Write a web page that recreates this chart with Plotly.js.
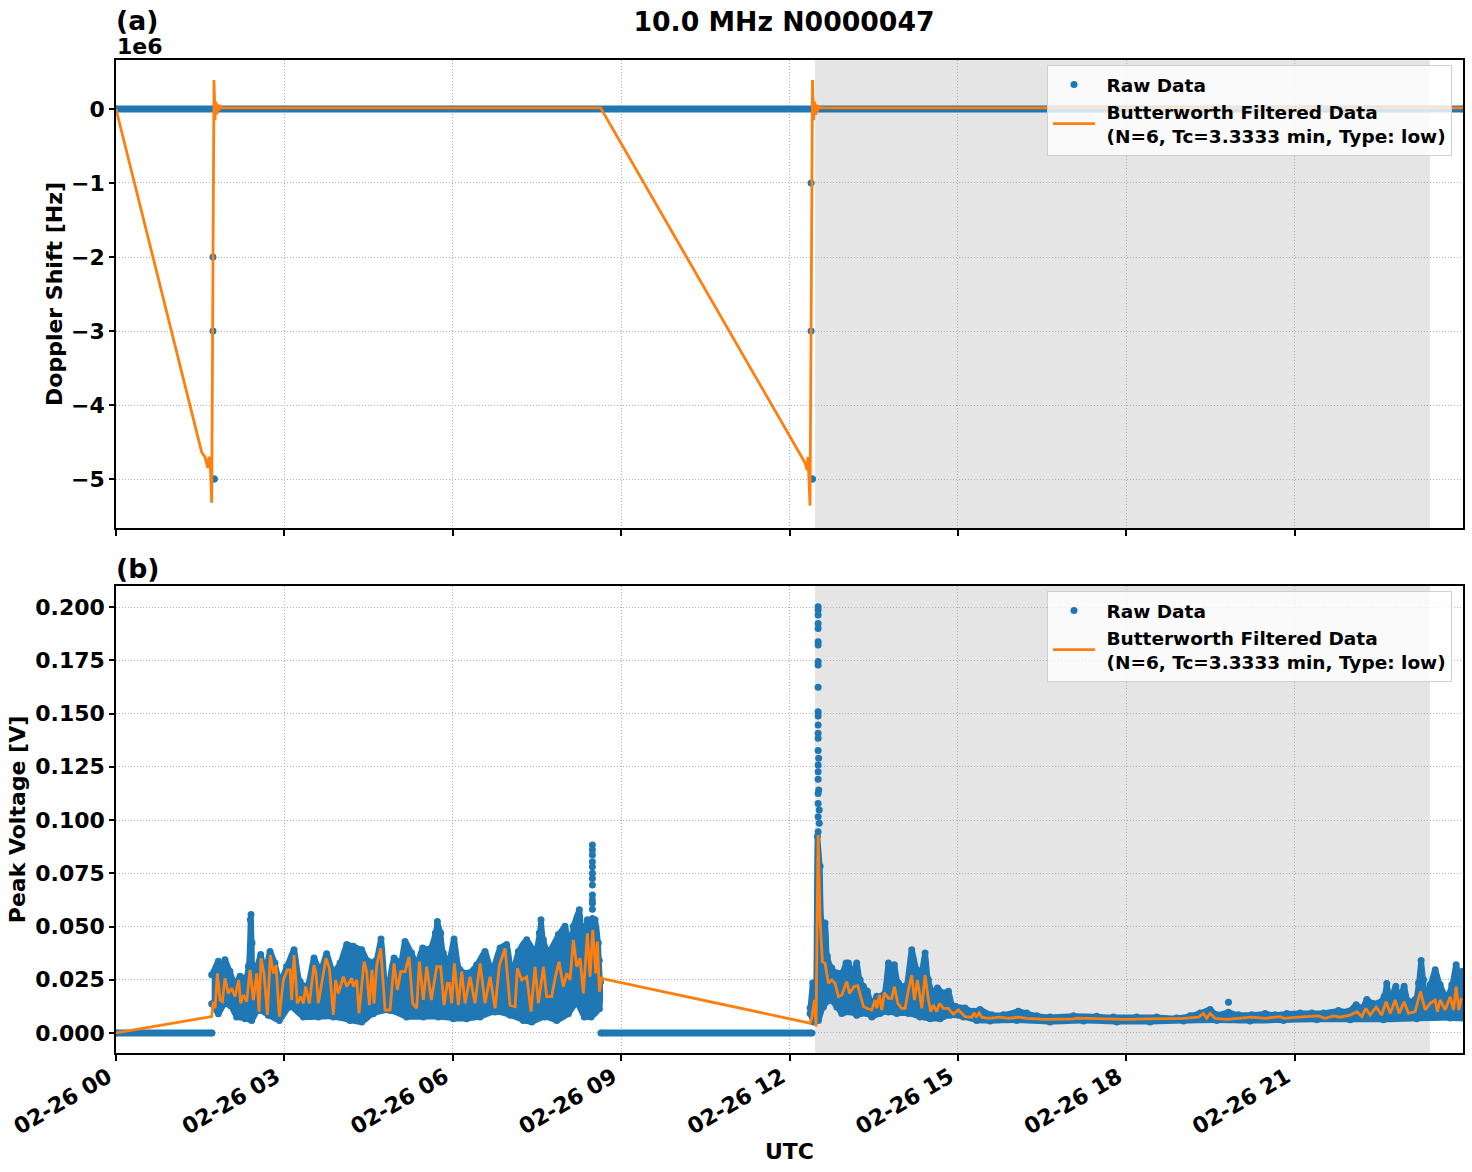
<!DOCTYPE html>
<html>
<head>
<meta charset="utf-8">
<script src="https://cdn.plot.ly/plotly-3.0.1.min.js"></script>
<style>html,body{margin:0;padding:0;background:#fff}</style>
</head>
<body>
<div id="chart" style="width:1472px;height:1172px"></div>
<script>
// Times are hours after 02-26 00:00 UTC.
const mainTitle = '10.0 MHz N0000047';
const panelLabels = ['(a)', '(b)'];
const rawName = '\u00A0Raw Data';
const filteredName = '\u00A0Butterworth Filtered Data<br>\u00A0(N=6, Tc=3.3333 min, Type: low)';
const shadeHours = [12.455, 23.41];
const tickHours = [0, 3, 6, 9, 12, 15, 18, 21];
const dopplerTicks = [0, -1000000, -2000000, -3000000, -4000000, -5000000];
const dopplerTickText = ['0', '\u22121', '\u22122', '\u22123', '\u22124', '\u22125'];

// Panel (a)
const dopplerBandT = [0, 24];
const dopplerBandV = [0, 0];
const dopplerOutT = [1.728, 1.728, 1.745, 1.752, 12.385, 12.385, 12.40, 12.41];
const dopplerOutV = [-2000000, -3000000, -5000000, -5000000, -1000000, -3000000, -5000000, -5000000];
const dopplerFiltT = [0, 1.527, 1.586, 1.634, 1.657, 1.680, 1.705, 1.746, 1.764, 1.782, 1.800, 1.818, 1.835, 1.853, 1.889, 8.635, 12.277, 12.313, 12.330, 12.366, 12.410, 12.430, 12.447, 12.465, 12.480, 12.500, 12.520, 12.550, 24];
const dopplerFiltV = [0, -4640000, -4700000, -4850000, -4700000, -4800000, -5320000, 390000, -150000, 100000, -70000, 60000, -20000, 50000, 15000, 15000, -4780000, -4880000, -4700000, -5360000, 390000, -150000, 100000, -80000, 60000, -30000, 40000, 15000, 15000];

// Panel (b): extents of the raw cloud, morning burst then afternoon burst
const zeroBand1T = [0, 1.71];
const zeroBand2T = [8.64, 12.40];
const zeroBandV = [0, 0];
const rawTop1T = [1.705,1.824,1.883,1.942,2.031,2.120,2.210,2.299,2.358,2.394,2.406,2.424,2.447,2.507,2.578,2.655,2.744,2.833,2.922,3.041,3.172,3.279,3.398,3.528,3.635,3.754,3.873,3.992,4.111,4.229,4.378,4.497,4.616,4.722,4.823,4.954,5.061,5.150,5.268,5.358,5.464,5.583,5.690,5.726,5.785,5.833,5.922,6.023,6.130,6.278,6.427,6.575,6.694,6.843,6.961,7.050,7.169,7.318,7.466,7.543,7.573,7.615,7.704,7.882,8.000,8.090,8.149,8.256,8.315,8.399,8.464,8.535,8.594,8.610,8.630];
const rawTop1V = [.0274,.0337,.0266,.0344,.0290,.0235,.0266,.0258,.0313,.0532,.0556,.0423,.0282,.0313,.0368,.0297,.0383,.0329,.0250,.0313,.0391,.0243,.0219,.0352,.0297,.0372,.0290,.0329,.0415,.0407,.0391,.0337,.0337,.0441,.0180,.0352,.0329,.0430,.0376,.0329,.0399,.0394,.0470,.0524,.0470,.0376,.0337,.0441,.0297,.0282,.0321,.0383,.0297,.0399,.0415,.0282,.0383,.0438,.0383,.0470,.0532,.0438,.0383,.0462,.0501,.0407,.0501,.0579,.0415,.0532,.0509,.0532,.0423,.0340,.0240];
const rawBottom1T = [1.705,1.824,1.942,2.031,2.150,2.299,2.418,2.536,2.714,2.910,3.101,3.338,3.605,3.873,4.170,4.378,4.585,4.882,5.179,5.476,5.744,6.011,6.249,6.486,6.753,7.021,7.258,7.407,7.644,7.852,8.060,8.209,8.345,8.464,8.613,8.630];
const rawBottom1V = [.0137,.0090,.0137,.0129,.0075,.0067,.0059,.0106,.0083,.0059,.0122,.0075,.0075,.0075,.0059,.0051,.0090,.0106,.0075,.0075,.0075,.0067,.0067,.0075,.0098,.0083,.0059,.0051,.0075,.0059,.0090,.0137,.0075,.0075,.0114,.0240];
const rawTop2T = [12.367,12.414,12.456,12.497,12.545,12.592,12.634,12.675,12.753,12.842,12.931,13.008,13.050,13.109,13.198,13.257,13.317,13.388,13.466,13.555,13.673,13.763,13.822,13.869,13.941,14.060,14.178,14.268,14.327,14.416,14.475,14.564,14.636,14.743,14.832,14.909,14.950,15.128,15.277,15.396,15.604,15.811,16.079,16.227,16.405,16.643,17.059,17.475,17.772,18.187,18.544,18.900,19.138,19.316,19.494,19.613,19.821,20.000,20.237,20.474,20.653,20.860,21.098,21.306,21.514,21.781,21.959,22.096,22.197,22.286,22.405,22.494,22.595,22.642,22.702,22.803,22.862,22.951,23.029,23.147,23.207,23.254,23.296,23.326,23.415,23.504,23.593,23.711,23.801,23.878,23.949,23.990];
const rawTop2V = [.0117,.0235,.0172,.0923,.0783,.0517,.0517,.0360,.0305,.0282,.0282,.0329,.0329,.0282,.0329,.0250,.0219,.0196,.0141,.0172,.0180,.0329,.0282,.0321,.0235,.0219,.0391,.0297,.0266,.0376,.0250,.0188,.0211,.0188,.0196,.0125,.0125,.0117,.0102,.0110,.0086,.0086,.0102,.0094,.0081,.0075,.0081,.0078,.0075,.0075,.0075,.0070,.0081,.0094,.0110,.0086,.0097,.0086,.0086,.0091,.0086,.0091,.0094,.0094,.0094,.0106,.0102,.0133,.0117,.0157,.0138,.0141,.0172,.0232,.0165,.0219,.0165,.0219,.0149,.0157,.0235,.0340,.0250,.0180,.0227,.0297,.0227,.0172,.0227,.0321,.0250,.0290];
const rawBottom2T = [12.367,12.426,12.515,12.604,12.723,12.842,12.931,13.079,13.198,13.376,13.466,13.614,13.763,13.911,14.119,14.327,14.505,14.683,14.861,15.099,15.336,15.574,16.049,16.643,17.237,17.831,18.425,19.019,19.613,20.207,20.801,21.395,21.989,22.583,23.177,23.771,23.990];
const rawBottom2V = [.0091,.0052,.0059,.0122,.0153,.0122,.0091,.0098,.0083,.0091,.0075,.0091,.0098,.0091,.0091,.0075,.0067,.0067,.0083,.0075,.0059,.0056,.0059,.0052,.0056,.0052,.0052,.0056,.0059,.0056,.0059,.0062,.0062,.0062,.0067,.0070,.0070];

// Isolated raw points on the spikes
const spikeT = [8.488,8.488,8.488,8.488,8.488,8.488,8.488,8.488,8.488,8.488,8.488,8.488,8.488,
12.51,12.51,12.51,12.51,12.51,12.51,12.51,12.51,12.51,12.51,12.51,12.51,12.51,12.51,12.51,12.51,12.52,12.51,12.51,12.51,12.52,12.51,12.51,12.53,12.51,12.53,12.51,19.821];
const spikeV = [.0883,.0859,.0836,.0804,.0781,.0750,.0726,.0695,.0648,.0624,.0609,.0581,.0538,
.2002,.1986,.1963,.1923,.1900,.1837,.1822,.1744,.1728,.1623,.1509,.1488,.1446,.1407,.1384,.1326,.1290,.1258,.1227,.1191,.1141,.1125,.1078,.1047,.1016,.0985,.0945,.0144];

// Panel (b): filtered line
const filtT = [0,1.700,1.705,1.734,1.764,1.806,1.853,1.895,1.942,2.002,2.061,2.120,2.186,2.221,2.269,2.328,2.388,2.447,2.507,2.548,2.584,2.637,2.697,2.750,2.804,2.851,2.910,2.982,3.053,3.101,3.130,3.172,3.231,3.291,3.338,3.380,3.445,3.528,3.564,3.605,3.671,3.742,3.802,3.873,3.914,3.962,4.051,4.111,4.200,4.229,4.289,4.330,4.419,4.467,4.514,4.562,4.597,4.645,4.716,4.794,4.883,4.954,5.013,5.073,5.150,5.221,5.286,5.358,5.405,5.476,5.536,5.619,5.714,5.785,5.845,5.904,5.940,5.981,6.029,6.100,6.160,6.219,6.308,6.397,6.486,6.575,6.665,6.754,6.831,6.932,7.021,7.110,7.152,7.229,7.318,7.395,7.466,7.526,7.615,7.674,7.763,7.823,7.894,7.971,8.031,8.090,8.149,8.209,8.268,8.328,8.399,8.446,8.494,8.548,8.577,8.613,8.654,8.660,
12.300,12.367,12.396,12.444,12.473,12.509,12.545,12.586,12.634,12.693,12.753,12.812,12.872,12.931,13.020,13.068,13.151,13.216,13.317,13.376,13.466,13.525,13.555,13.602,13.644,13.691,13.763,13.822,13.869,13.929,14.000,14.060,14.119,14.178,14.226,14.279,14.357,14.416,14.475,14.517,14.564,14.624,14.671,14.743,14.832,14.861,14.920,15.010,15.128,15.247,15.289,15.324,15.378,15.425,15.544,15.752,15.901,16.079,16.227,16.584,17.059,17.118,17.475,17.950,18.425,18.633,19.019,19.286,19.375,19.435,19.494,19.583,19.791,20.237,20.474,20.742,20.801,21.068,21.306,21.425,21.544,21.692,21.811,21.989,22.108,22.197,22.268,22.345,22.452,22.553,22.630,22.702,22.791,22.862,22.951,23.029,23.147,23.242,23.326,23.415,23.504,23.545,23.593,23.682,23.771,23.831,23.878,23.925,23.967,23.990];
const filtV = [0,.0075,.0077,.0147,.0116,.0280,.0155,.0147,.0257,.0186,.0210,.0171,.0249,.0139,.0178,.0147,.0296,.0155,.0280,.0100,.0351,.0280,.0085,.0366,.0280,.0319,.0077,.0249,.0296,.0296,.0155,.0366,.0139,.0171,.0139,.0218,.0139,.0319,.0280,.0139,.0249,.0351,.0304,.0085,.0249,.0186,.0264,.0218,.0257,.0218,.0249,.0092,.0335,.0288,.0131,.0296,.0139,.0319,.0397,.0108,.0108,.0327,.0202,.0288,.0288,.0358,.0139,.0116,.0335,.0155,.0311,.0155,.0311,.0311,.0131,.0233,.0233,.0139,.0327,.0131,.0288,.0139,.0264,.0139,.0327,.0139,.0264,.0116,.0319,.0397,.0131,.0124,.0304,.0249,.0264,.0100,.0311,.0139,.0311,.0171,.0171,.0257,.0335,.0218,.0280,.0249,.0437,.0311,.0351,.0186,.0468,.0264,.0484,.0280,.0429,.0194,.0264,.0255,
.0050,.0045,.0069,.0155,.0030,.0930,.0531,.0335,.0327,.0233,.0249,.0233,.0171,.0178,.0241,.0186,.0218,.0222,.0124,.0116,.0108,.0155,.0116,.0178,.0108,.0189,.0163,.0163,.0218,.0139,.0116,.0116,.0202,.0272,.0155,.0249,.0116,.0272,.0155,.0100,.0131,.0100,.0139,.0116,.0116,.0105,.0089,.0108,.0077,.0074,.0095,.0074,.0095,.0074,.0069,.0074,.0069,.0074,.0069,.0064,.0066,.0070,.0067,.0064,.0066,.0067,.0069,.0074,.0092,.0069,.0092,.0069,.0064,.0074,.0069,.0077,.0069,.0074,.0077,.0080,.0069,.0080,.0074,.0084,.0100,.0077,.0116,.0084,.0121,.0084,.0147,.0092,.0155,.0092,.0147,.0092,.0100,.0194,.0108,.0139,.0155,.0100,.0155,.0108,.0170,.0108,.0218,.0108,.0158,.0155];

const BLUE = '#1f77b4', ORANGE = '#ff7f0e';
const DAY0 = Date.UTC(2023, 1, 26);
const t = a => a.map(h => DAY0 + h * 3600000);
const FONT = 'DejaVu Sans, sans-serif';
const BASE = {size: 22, family: FONT, color: '#000', weight: 700};
const BIG = {size: 26.7, family: FONT, color: '#000', weight: 700};
const W = 1472, H = 1172;

const band = (x, y, xa, ya, width) => ({x: t(x), y, xaxis: xa, yaxis: ya, type: 'scatter', mode: 'lines',
  line: {color: BLUE, width}, showlegend: false, hoverinfo: 'skip'});
const cloud = (topT, topV, botT, botV) => ({x: t(topT.concat(botT.slice().reverse())), y: topV.concat(botV.slice().reverse()),
  xaxis: 'x2', yaxis: 'y2', type: 'scatter', mode: 'lines', fill: 'toself', fillcolor: BLUE,
  line: {color: BLUE, width: 5, shape: 'spline', smoothing: 0.7}, showlegend: false, hoverinfo: 'skip'});

const data = [
  band(dopplerBandT, dopplerBandV, 'x', 'y', 7),
  {x: t(dopplerBandT.concat(dopplerOutT)), y: dopplerBandV.concat(dopplerOutV), xaxis: 'x', yaxis: 'y', type: 'scatter', mode: 'markers', name: rawName,
   marker: {color: BLUE, size: 7}, legend: 'legend'},
  {x: t(dopplerFiltT), y: dopplerFiltV, xaxis: 'x', yaxis: 'y', type: 'scatter', mode: 'lines', name: filteredName,
   line: {color: ORANGE, width: 2.8}, legend: 'legend'},

  band(zeroBand1T, zeroBandV, 'x2', 'y2', 7),
  band(zeroBand2T, zeroBandV, 'x2', 'y2', 7),
  cloud(rawTop1T, rawTop1V, rawBottom1T, rawBottom1V),
  cloud(rawTop2T, rawTop2V, rawBottom2T, rawBottom2V),
  {x: t(zeroBand1T.concat(zeroBand2T, rawTop1T, rawBottom1T, rawTop2T, rawBottom2T, spikeT)),
   y: zeroBandV.concat(zeroBandV, rawTop1V, rawBottom1V, rawTop2V, rawBottom2V, spikeV),
   xaxis: 'x2', yaxis: 'y2', type: 'scatter', mode: 'markers', name: rawName,
   marker: {color: BLUE, size: 7}, legend: 'legend2'},
  {x: t(filtT), y: filtV, xaxis: 'x2', yaxis: 'y2', type: 'scatter', mode: 'lines', name: filteredName,
   line: {color: ORANGE, width: 2.8}, legend: 'legend2'}
];

const xBase = {
  type: 'date', range: [DAY0, DAY0 + 24 * 3600000], tickmode: 'array', tickvals: t(tickHours),
  showline: true, mirror: true, linecolor: '#000', linewidth: 1.5,
  ticks: 'outside', ticklen: 6, tickwidth: 1.5, tickcolor: '#000',
  showgrid: true, gridcolor: '#b0b0b0', griddash: '1px,2px', gridwidth: 1, zeroline: false,
  domain: [116 / W, 1463 / W]
};
const yBase = {
  showline: true, mirror: true, linecolor: '#000', linewidth: 1.5,
  ticks: 'outside', ticklen: 5, tickwidth: 1.5, tickcolor: '#000',
  showgrid: true, gridcolor: '#b0b0b0', griddash: '1px,2px', gridwidth: 1, zeroline: false,
  tickfont: BASE, automargin: false
};
const legendBase = {x: 1047 / W, xanchor: 'left', yanchor: 'top', bgcolor: 'rgba(255,255,255,0.8)',
  bordercolor: '#d0d0d0', borderwidth: 1, font: {size: 18.5, family: FONT, color: '#000', weight: 700},
  itemwidth: 42, traceorder: 'normal', tracegroupgap: 0};
const shade = (xa, ya) => ({type: 'rect', xref: xa, yref: ya + ' domain', x0: DAY0 + shadeHours[0] * 3600000, x1: DAY0 + shadeHours[1] * 3600000,
  y0: 0, y1: 1, fillcolor: 'rgba(0,0,0,0.1)', line: {width: 0}, layer: 'below'});

const layout = {
  width: W, height: H, margin: {l: 0, r: 0, t: 0, b: 0}, paper_bgcolor: '#fff', plot_bgcolor: '#fff',
  title: {text: mainTitle, x: 784 / W, xref: 'paper', xanchor: 'center', y: 1 - 22 / H, yref: 'paper', yanchor: 'middle', font: BIG},
  xaxis: Object.assign({}, xBase, {anchor: 'y', showticklabels: false}),
  xaxis2: Object.assign({}, xBase, {anchor: 'y2', tickformat: '%m-%d %H', tickangle: -30, tickfont: BASE,
    ticklabelshift: -8, ticklabelstandoff: -5,
    title: {text: 'UTC', font: BASE, standoff: 0}}),
  yaxis: Object.assign({}, yBase, {anchor: 'x', domain: [1 - 528 / H, 1 - 60 / H], range: [-5662000, 662000],
    tickvals: dopplerTicks, ticktext: dopplerTickText, title: {text: 'Doppler Shift [Hz]', font: BASE, standoff: 2}}),
  yaxis2: Object.assign({}, yBase, {anchor: 'x2', domain: [1 - 1053 / H, 1 - 586 / H], range: [-0.0094, 0.2099],
    dtick: 0.025, tick0: 0, tickformat: '.3f', title: {text: 'Peak Voltage [V]', font: BASE, standoff: 4}}),
  legend: Object.assign({}, legendBase, {y: 1 - 65 / H}),
  legend2: Object.assign({}, legendBase, {y: 1 - 591 / H}),
  shapes: [shade('x', 'y'), shade('x2', 'y2')],
  annotations: [
    {text: panelLabels[0], xref: 'paper', yref: 'paper', x: 116 / W, xshift: -2, y: 1 - 21 / H, xanchor: 'left', yanchor: 'middle', showarrow: false, font: BIG},
    {text: panelLabels[1], xref: 'paper', yref: 'paper', x: 116 / W, xshift: -2, y: 1 - 568 / H, xanchor: 'left', yanchor: 'middle', showarrow: false, font: BIG},
    {text: '1e6', xref: 'paper', yref: 'paper', x: 116 / W, xshift: -1, y: 1 - 46 / H, xanchor: 'left', yanchor: 'middle', showarrow: false, font: BASE}
  ],
  showlegend: true
};
Plotly.newPlot('chart', data, layout, {displayModeBar: false, responsive: false});
</script>
</body>
</html>
